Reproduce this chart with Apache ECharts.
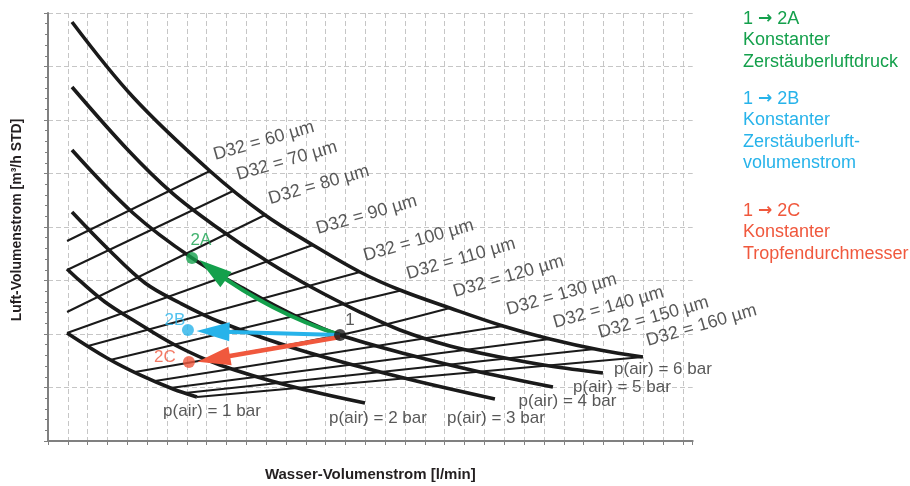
<!DOCTYPE html>
<html><head><meta charset="utf-8">
<script src="https://cdn.jsdelivr.net/npm/echarts@6/dist/echarts.min.js"></script>
<style>html,body{margin:0;padding:0;background:#fff}#c{width:910px;height:486px}</style>
</head><body><div id="c"></div>
<script>
// ---------- data (x: Wasser-Volumenstrom, y: Luft-Volumenstrom, arbitrary units) ----------
const pressureNames = ['p(air) = 1 bar','p(air) = 2 bar','p(air) = 3 bar','p(air) = 4 bar','p(air) = 5 bar','p(air) = 6 bar'];
const p1 = [[0.192,2.019],[0.595,1.551],[0.927,1.234],[1.260,0.972],[1.502,0.822]];
const p2 = [[0.192,3.215],[0.323,2.991],[0.575,2.598],[0.857,2.262],[1.280,1.794],[1.734,1.421],[2.440,1.028],[3.196,0.710]];
const p3 = [[0.242,4.280],[0.605,3.589],[0.978,2.953],[1.331,2.579],[1.734,2.224],[2.540,1.701],[3.548,1.196],[4.506,0.785]];
const p4 = [[0.242,5.439],[0.857,4.262],[1.452,3.421],[2.036,2.785],[2.540,2.299],[2.944,1.981],[3.649,1.607],[4.355,1.290],[5.091,1.009]];
const p5 = [[0.242,6.617],[0.806,5.439],[1.250,4.636],[1.683,4.019],[2.238,3.327],[2.671,2.860],[3.145,2.411],[3.548,2.075],[4.052,1.776],[4.556,1.570],[5.060,1.402],[5.595,1.271]];
const p6 = [[0.242,7.832],[0.857,6.430],[1.633,5.047],[2.188,4.224],[2.671,3.664],[3.145,3.159],[3.548,2.822],[4.052,2.486],[4.587,2.150],[5.060,1.907],[5.565,1.701],[5.998,1.570]];
const pressureCurves = [p1,p2,p3,p4,p5,p6];

const d32Names = ['D32 = 60 µm','D32 = 70 µm','D32 = 80 µm','D32 = 90 µm','D32 = 100 µm','D32 = 110 µm','D32 = 120 µm','D32 = 130 µm','D32 = 140 µm','D32 = 150 µm','D32 = 160 µm'];
const d60  = [[0.192,3.738],[1.633,5.047]];
const d70  = [[0.192,3.196],[1.865,4.673]];
const d80  = [[0.192,2.411],[2.188,4.224]];
const d90  = [[0.192,2.019],[2.671,3.664]];
const d100 = [[0.403,1.776],[3.145,3.159]];
const d110 = [[0.625,1.514],[3.579,2.822]];
const d120 = [[0.877,1.290],[2.944,1.981],[4.052,2.486]];
const d130 = [[1.079,1.121],[4.587,2.150]];
const d140 = [[1.230,0.991],[5.060,1.907]];
const d150 = [[1.381,0.897],[5.514,1.720]];
const d160 = [[1.502,0.822],[5.998,1.570]];
const d32Lines = [d60,d70,d80,d90,d100,d110,d120,d130,d140,d150,d160];

const pointNames = ['1','2A','2B','2C'];
const pointX = [2.944,1.452,1.411,1.421];
const pointY = [1.981,3.421,2.075,1.477];

const arrowA = [[2.944,1.981],[1.660,3.200]];
const arrowB = [[2.944,1.981],[1.663,2.049]];
const arrowC = [[2.944,1.944],[1.671,1.536]];

const legendA = ['1 {a|→} 2A','Konstanter','Zerstäuberluftdruck'];
const legendB = ['1 {a|→} 2B','Konstanter','Zerstäuberluft-','volumenstrom'];
const legendC = ['1 {a|→} 2C','Konstanter','Tropfendurchmesser'];
const xTitle = 'Wasser-Volumenstrom [l/min]';
const yTitle = 'Luft-Volumenstrom [m³/h STD]';

// ---------- styles ----------
const FONT = "'Liberation Sans', Arial, Helvetica, sans-serif";
const INK = '#1a1a1a';
const TXT = '#2e2e2e';
const GREEN = '#14a04c', BLUE = '#27b3ea', RED = '#f0583d';
const pointColors = [INK, GREEN, BLUE, RED];
const pointLabelOffsets = [[10,-15],[9,-18],[-13,-10],[-24,-5]];
const pLabelOffsets = [[15,14],[13,15.5],[1,19.5],[14.5,14.5],[19,14],[20,12.5]];
const gridStyle = {color:'#c6c6c6', width:1, type:[5,3]};
const axisColor = '#808080';

const series = [];
d32Lines.forEach(function (d) {
  series.push({type:'line', data:d, symbol:'none', smooth:0.3, silent:true, z:2,
    lineStyle:{color:INK, width:2}});
});
pressureCurves.forEach(function (d) {
  series.push({type:'line', data:d, symbol:'none', smooth:0.35, silent:true, z:3,
    lineStyle:{color:INK, width:3.6}});
});
series.push({
  type:'lines', coordinateSystem:'cartesian2d', silent:true, z:5,
  symbol:['none','triangle'], symbolSize:[1,[19,33]],
  lineStyle:{width:4, opacity:1},
  data:[
    {coords:arrowA, lineStyle:{color:GREEN, width:4, curveness:0.08}},
    {coords:arrowB, lineStyle:{color:BLUE, width:4, curveness:0}},
    {coords:arrowC, lineStyle:{color:RED, width:4.5, curveness:0}}
  ]
});
series.push({
  type:'scatter', symbol:'circle', symbolSize:12, silent:true, z:6,
  data: pointNames.map(function (n, i) {
    return {name:n, value:[pointX[i], pointY[i]], itemStyle:{color:pointColors[i]},
      label:{show:true, formatter:n, position:'inside', offset:pointLabelOffsets[i],
        align:'center', verticalAlign:'middle', color:pointColors[i] === INK ? TXT : pointColors[i],
        fontFamily:FONT, fontSize:17}};
  })
});
series.push({
  type:'scatter', symbol:'circle', symbolSize:1, silent:true, z:7,
  itemStyle:{color:'rgba(0,0,0,0)'},
  data: pressureCurves.map(function (d, i) {
    return {value:d[d.length-1],
      label:{show:true, formatter:pressureNames[i], position:'inside', offset:pLabelOffsets[i],
        align:'center', verticalAlign:'middle', color:TXT, fontFamily:FONT, fontSize:17}};
  })
});
series.push({
  type:'scatter', symbol:'circle', symbolSize:1, silent:true, z:7,
  itemStyle:{color:'rgba(0,0,0,0)'},
  data: d32Lines.map(function (d, i) {
    return {value:d[d.length-1],
      label:{show:true, formatter:d32Names[i], position:'inside', offset:[8,-5], rotate:16,
        align:'left', verticalAlign:'bottom', color:TXT, fontFamily:FONT, fontSize:18}};
  })
});

const graphics = [];
function addLegend(lines, y0, color) {
  lines.forEach(function (t, i) {
    graphics.push({type:'text', x:743, y:y0 + i*21.5,
      style:{text:t, fill:color, font:'18px ' + FONT, verticalAlign:'middle',
        rich:{a:{fontWeight:'bold', fontSize:17, fontFamily:"'DejaVu Sans', sans-serif", fill:color}}}});
  });
}
addLegend(legendA, 19, GREEN);
addLegend(legendB, 99, BLUE);
addLegend(legendC, 211, RED);

const chart = echarts.init(document.getElementById('c'), null, {renderer:'canvas'});
chart.setOption({
  animation:false,
  backgroundColor:'#ffffff',
  grid:{left:48, top:13, right:217.3, bottom:45, containLabel:false, outerBoundsMode:'none'},
  xAxis:{type:'value', min:0, max:6.5, interval:0.2,
    name:xTitle, nameLocation:'middle', nameGap:26,
    nameTextStyle:{fontFamily:FONT, fontWeight:'bold', fontSize:15, color:'#231f20'},
    axisLine:{show:true, onZero:false, lineStyle:{color:axisColor, width:2}},
    axisTick:{show:true, length:4, lineStyle:{color:axisColor, width:1}},
    axisLabel:{show:false},
    splitLine:{show:true, showMinLine:false, showMaxLine:false, lineStyle:gridStyle}},
  yAxis:{type:'value', min:0, max:8, interval:1,
    name:yTitle, nameLocation:'middle', nameGap:24, nameRotate:90,
    nameTextStyle:{fontFamily:FONT, fontWeight:'bold', fontSize:14, color:'#231f20', padding:[0,0,0,14]},
    axisLine:{show:true, lineStyle:{color:axisColor, width:2}},
    axisTick:{show:true, length:4, lineStyle:{color:axisColor, width:1}},
    minorTick:{show:true, splitNumber:5, length:3, lineStyle:{color:axisColor, width:1}},
    axisLabel:{show:false},
    splitLine:{show:true, showMinLine:false, lineStyle:gridStyle}},
  graphic:graphics,
  series:series
});
</script></body></html>
